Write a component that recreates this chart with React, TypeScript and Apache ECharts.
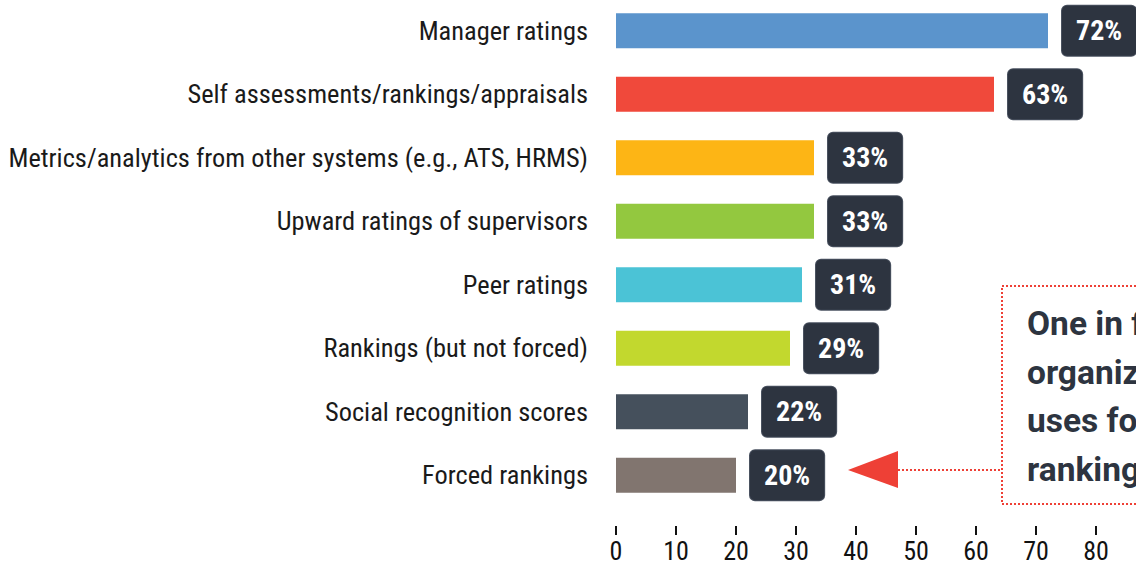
import React, { useEffect, useRef } from "react";
import * as echarts from "echarts";

const categories = [
  "Manager ratings",
  "Self assessments/rankings/appraisals",
  "Metrics/analytics from other systems (e.g., ATS, HRMS)",
  "Upward ratings of supervisors",
  "Peer ratings",
  "Rankings (but not forced)",
  "Social recognition scores",
  "Forced rankings",
];
const values = [72, 63, 33, 33, 31, 29, 22, 20];
const barColors = [
  "#5b94cc",
  "#f0493b",
  "#fdb515",
  "#93c83f",
  "#4bc3d6",
  "#c2d82e",
  "#45505c",
  "#81756f",
];
const noteLines = ["One in five", "organizations", "uses forced", "rankings."];

const FONT = "'Roboto Condensed', 'Liberation Sans Narrow', Roboto, sans-serif";

export default function App() {
  const ref = useRef<HTMLDivElement>(null);
  useEffect(() => {
    if (!ref.current) return;
    const chart = echarts.init(ref.current, undefined, { renderer: "svg" });
    const red = "#ee4036";
    const dark = "#2d3440";
    chart.setOption({
      animation: false,
      grid: {
        left: 616,
        top: -1,
        width: 600,
        height: 508,
        containLabel: false,
        outerBoundsMode: "none",
      },
      xAxis: {
        type: "value",
        min: 0,
        max: 100,
        interval: 10,
        offset: 19,
        axisLine: { show: false },
        axisTick: { show: true, length: 9, lineStyle: { color: "#111", width: 2 } },
        axisLabel: { fontSize: 26, color: "#111", margin: 12, fontFamily: FONT },
        splitLine: { show: false },
      },
      yAxis: {
        type: "category",
        inverse: true,
        data: categories,
        axisLine: { show: false },
        axisTick: { show: false },
        axisLabel: { fontSize: 26.4, color: "#1a1a1a", margin: 28, fontFamily: FONT },
      },
      series: [
        {
          type: "bar",
          barWidth: 35,
          data: values.map((v, i) => ({ value: v, itemStyle: { color: barColors[i] } })),
          label: {
            show: true,
            position: "right",
            distance: 14,
            formatter: "{c}%",
            color: "#fff",
            fontWeight: "bold",
            fontSize: 28,
            lineHeight: 30,
            fontFamily: FONT,
            backgroundColor: dark,
            borderColor: "#4a5260",
            borderWidth: 1,
            borderRadius: 5,
            padding: [10, 14],
          },
        },
      ],
      graphic: [
        {
          type: "rect",
          shape: { x: 1002, y: 286, width: 300, height: 218 },
          style: { fill: "none", stroke: red, lineWidth: 2, lineDash: [2, 2] },
        },
        {
          type: "line",
          shape: { x1: 898, y1: 470, x2: 1002, y2: 470 },
          style: { stroke: red, lineWidth: 2, lineDash: [2, 2] },
        },
        {
          type: "polygon",
          shape: { points: [[848, 470], [898, 451], [898, 488]] },
          style: { fill: red },
        },
        ...noteLines.map((t, i) => ({
          type: "text",
          x: 1027,
          y: 323.5 + i * 48.5,
          style: {
            text: t,
            fill: dark,
            fontSize: 33.5,
            fontWeight: "bold",
            fontFamily: "Roboto, sans-serif",
            verticalAlign: "middle",
            align: "left",
          },
        })),
      ],
    });
    return () => chart.dispose();
  }, []);
  return (
    <div
      ref={ref}
      style={{ position: "fixed", left: 0, top: 0, width: 1136, height: 562, background: "#fff" }}
    />
  );
}
